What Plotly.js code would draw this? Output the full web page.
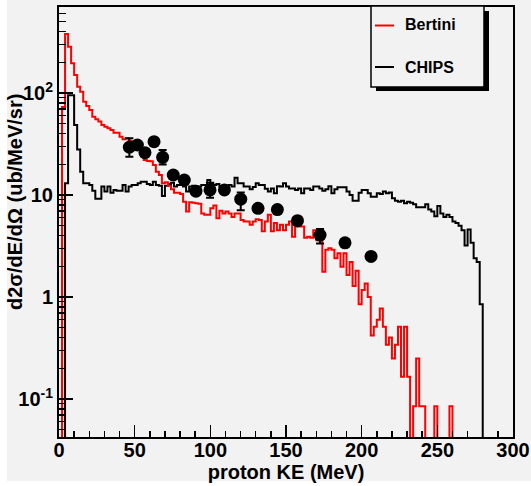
<!DOCTYPE html>
<html><head><meta charset="utf-8">
<script src="https://cdn.plot.ly/plotly-3.0.1.min.js"></script>
<style>html,body{margin:0;padding:0;background:#ffffff;} #chart{width:531px;height:486px;}</style>
</head><body><div id="chart"></div>
<script>
// ---- data ----
const binWidth = 2; // MeV
const bertini = [
 0, 73, 379, 284, 196, 150, 115, 103, 82, 74.6,
 68, 58.6, 55.2, 52.4, 48.6, 46.7, 45, 43.4, 40.8, 40.8,
 37.3, 35.2, 36, 34.1, 31, 30, 28, 26, 22, 21.5,
 21.4, 19.7, 16.9, 15.7, 13.0, 13.3, 12.3, 11.4, 10.5, 10.5,
 10.2, 8.6, 6.9, 8.5, 8.4, 8.3, 8.2, 6.6, 6.4, 6.4,
 7.4, 7.9, 5.9, 7.0, 6.6, 6.9, 6.6, 6.1, 6.6, 6.6,
 5.7, 5.5, 5.5, 5.1, 5.5, 5.8, 5.7, 4.4, 5.5, 6.4,
 4.4, 5.3, 4.5, 5.1, 4.5, 5.1, 5.5, 3.9, 4.9, 4.9,
 4.9, 3.8, 3.9, 3.8, 4.5, 3.6, 3.6, 1.77, 2.9, 3.0,
 2.9, 2.4, 2.68, 1.98, 2.68, 1.64, 2.2, 1.28, 1.81, 0.85,
 1.17, 1.36, 1.0, 0.42, 0.51, 0.6, 0.77, 0.51, 0.34, 0.40,
 0.25, 0.34, 0.51, 0.165, 0.51, 0.165, 0, 0.085, 0.25, 0.085,
 0.085, 0, 0, 0, 0.085, 0, 0, 0, 0, 0.085,
 0, 0, 0, 0, 0, 0, 0, 0, 0, 0,
 0, 0, 0, 0, 0, 0, 0, 0, 0, 0
];
const chips = [
 0, 0, 13, 95, 95, 48.5, 28, 16.9, 13.0, 13.0,
 12.5, 11.0, 9.2, 9.2, 12.1, 10.8, 12.1, 10.5, 11.2, 11.0,
 11.0, 12.5, 10.8, 12.1, 12.5, 12.5, 13, 13.5, 13.5, 12.8,
 12.5, 13.5, 12.5, 12.3, 9.8, 12.3, 12.8, 13.2, 12.1, 12.5,
 12.5, 12.1, 10.8, 12.1, 12.3, 12.1, 12.1, 12.5, 12.5, 14,
 13, 12.5, 12.8, 12.1, 12.1, 12.1, 12.5, 12.1, 14.8, 13.0,
 13, 12.1, 12.1, 11.4, 12, 13.0, 12.5, 12.5, 11.5, 10.8,
 11.6, 10.4, 12.2, 12.1, 13.0, 12.1, 11.6, 11.6, 11.2, 11.6,
 10.4, 11.6, 11.6, 11.2, 12.1, 12.1, 11.6, 11.0, 11.4, 12.2,
 10.4, 11.4, 11.9, 11.9, 11.9, 10.8, 10.0, 8.8, 8.8, 10.5,
 11.2, 11.2, 10.4, 9.6, 9.6, 10.4, 10.2, 10.8, 10.4, 10.6,
 9.3, 8.8, 8.6, 8.8, 8.3, 8.6, 8.4, 8.1, 7.6, 7.6,
 7.6, 8.1, 7.2, 6.9, 6.2, 7.8, 6.6, 6.1, 6.4, 6.1,
 5.5, 5.3, 5.0, 4.5, 3.2, 4.6, 3.4, 2.4, 2.2, 0.85,
 0, 0, 0, 0, 0, 0, 0, 0, 0, 0
];
const dataKE    = [46.5, 51.8, 56.8, 62.8, 68.5, 75.5, 82.8, 90.5, 99.8, 109.3, 120.1, 131.5, 144.3, 157.6, 172.5, 189, 206.2];
const dataVal   = [29.4, 30.9, 26, 33.3, 23.4, 15.7, 14.0, 10.9, 11.2, 11.2, 9.1, 7.4, 7.2, 5.6, 4.05, 3.4, 2.5];
const dataErrUp = [6.6, 2.2, 2.0, 2.4, 4.2, 1.1, 1.0, 0.8, 2.0, 0.8, 1.5, 0.5, 0.5, 0.4, 0.6, 0.25, 0.2];
const dataErrDn = [5.7, 2.2, 2.0, 2.4, 3.5, 1.1, 1.0, 0.8, 1.8, 0.8, 2.0, 0.5, 0.5, 0.4, 0.7, 0.25, 0.2];
const yTickVals = [0.1, 1, 10, 100];
const yTickText = ['10<sup>-1</sup>', '1', '10', '10<sup>2</sup>'];
const xTickVals = [0, 50, 100, 150, 200, 250, 300];

// ---- drawing ----
const FLOOR = 1e-4; // empty bins drop below the axis
function stepTrace(vals, name, color) {
  const x = [], y = [];
  vals.forEach((v, i) => { x.push(i * binWidth); y.push(v > 0 ? v : FLOOR); });
  const last = vals[vals.length - 1];
  x.push(vals.length * binWidth); y.push(last > 0 ? last : FLOOR);
  return {type: 'scatter', mode: 'lines', x: x, y: y, name: name,
          line: {shape: 'hv', color: color, width: 2}, showlegend: false, hoverinfo: 'skip'};
}
const traces = [
  stepTrace(chips, 'CHIPS', '#000000'),
  stepTrace(bertini, 'Bertini', '#ff0000'),
  {type: 'scatter', mode: 'markers', x: dataKE, y: dataVal, name: 'data', showlegend: false,
   marker: {symbol: 'circle', size: 13, color: '#000000'},
   error_y: {type: 'data', symmetric: false, array: dataErrUp, arrayminus: dataErrDn,
             color: '#000000', thickness: 2, width: 4}}
];

const W = 531, H = 486, ML = 59, MR = 18, MT = 7, MB = 49;
const PW = W - ML - MR, PH = H - MT - MB;
const px = v => (v - ML) / PW;
const py = v => (H - MB - v) / PH;

const minorY = [];
[-2, -1, 0, 1, 2].forEach(e => { for (let d = 2; d <= 9; d++) minorY.push(d * Math.pow(10, e)); });

const bold = (size) => ({family: 'Liberation Sans, Arial, sans-serif', size: size, color: '#000', weight: 'bold'});
const bg = '#f2f2f2';

const layout = {
  width: W, height: H,
  margin: {l: ML, r: MR, t: MT, b: MB, pad: 0},
  paper_bgcolor: bg, plot_bgcolor: bg,
  showlegend: false,
  xaxis: {
    range: [0, 300], tickmode: 'array', tickvals: xTickVals,
    ticks: 'inside', ticklen: 12, tickwidth: 1.5, tickcolor: '#000',
    showline: true, linecolor: '#000', linewidth: 2, mirror: true,
    showgrid: false, zeroline: false, tickfont: bold(20), ticklabelstandoff: -6,
    minor: {ticks: 'inside', ticklen: 6, tickwidth: 1.5, tickcolor: '#000', tickmode: 'linear', tick0: 0, dtick: 10, showgrid: false},
    title: {text: 'proton KE (MeV)', font: bold(20), standoff: 2}
  },
  yaxis: {
    type: 'log', range: [-1.3725, 2.843], tickmode: 'array', tickvals: yTickVals, ticktext: yTickText,
    ticks: 'inside', ticklen: 14, tickwidth: 1.5, tickcolor: '#000',
    showline: true, linecolor: '#000', linewidth: 2, mirror: true,
    showgrid: false, zeroline: false, tickfont: bold(20),
    minor: {ticks: 'inside', ticklen: 7, tickwidth: 1.5, tickcolor: '#000', tickmode: 'array', tickvals: minorY, showgrid: false}
  },
  shapes: [
    // white canvas border strips (left, bottom)
    {type: 'rect', xref: 'paper', yref: 'paper', x0: px(0), x1: px(7), y0: py(H), y1: py(0),
     fillcolor: '#ffffff', line: {width: 0}, layer: 'below'},
    {type: 'rect', xref: 'paper', yref: 'paper', x0: px(0), x1: px(W), y0: py(H), y1: py(481),
     fillcolor: '#ffffff', line: {width: 0}, layer: 'below'},
    // legend
    {type: 'rect', xref: 'paper', yref: 'paper', x0: px(376), x1: px(489), y0: py(91), y1: py(11),
     fillcolor: '#000', line: {width: 0}},
    {type: 'rect', xref: 'paper', yref: 'paper', x0: px(371), x1: px(484), y0: py(87), y1: py(6),
     fillcolor: bg, line: {color: '#000', width: 1.5}},
    {type: 'line', xref: 'paper', yref: 'paper', x0: px(375), x1: px(394), y0: py(25.5), y1: py(25.5),
     line: {color: '#ff0000', width: 2}},
    {type: 'line', xref: 'paper', yref: 'paper', x0: px(375), x1: px(394), y0: py(67), y1: py(67),
     line: {color: '#000', width: 2}}
  ],
  annotations: [
    {xref: 'paper', yref: 'paper', x: px(403), y: py(25), xanchor: 'left', yanchor: 'middle',
     text: 'Bertini', showarrow: false, font: bold(16)},
    {xref: 'paper', yref: 'paper', x: px(403), y: py(68), xanchor: 'left', yanchor: 'middle',
     text: 'CHIPS', showarrow: false, font: bold(16)},
    {xref: 'paper', yref: 'paper', x: px(15), y: py(202), xanchor: 'center', yanchor: 'middle',
     textangle: -90, text: 'd2σ/dE/dΩ (ub/MeV/sr)', showarrow: false, font: bold(20)}
  ]
};
Plotly.newPlot('chart', traces, layout, {staticPlot: true, displayModeBar: false});
</script></body></html>
